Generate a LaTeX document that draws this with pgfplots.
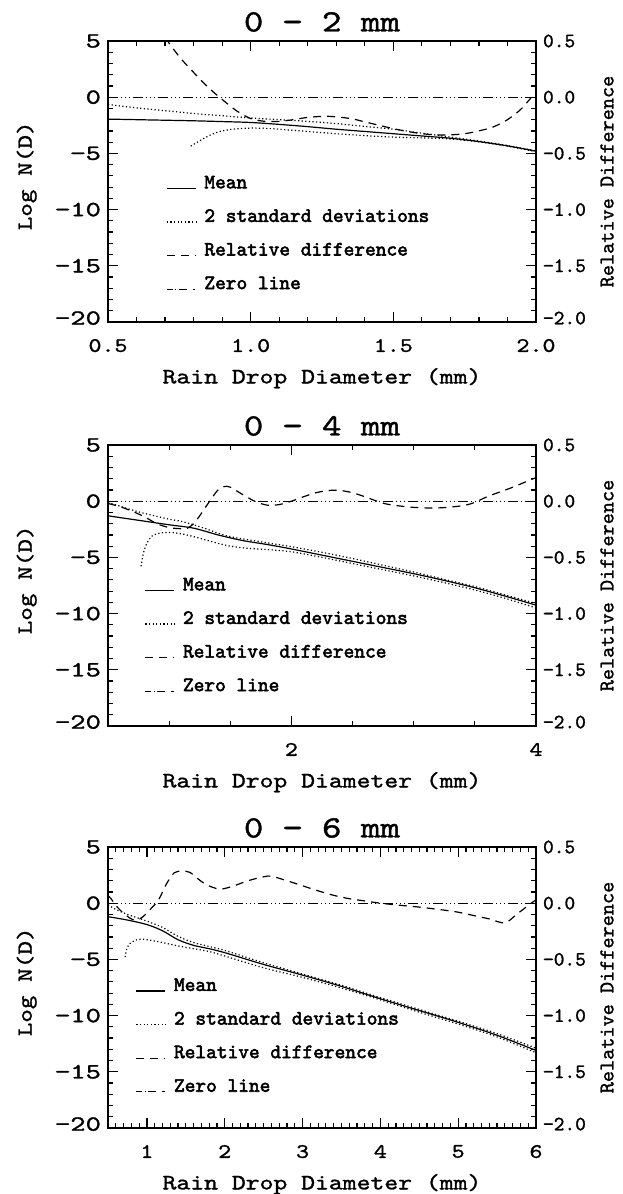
\documentclass[border=0pt]{standalone}
\usepackage{fontspec}
\newfontfamily\wide{lmmono10-regular.otf}[FakeStretch=1.2, FakeBold=1.3]
\newfontfamily\widey{lmmono10-regular.otf}[FakeStretch=1.35, FakeBold=1.3]
\newfontfamily\condfont{lmmono10-regular.otf}[FakeBold=1.3]
\newfontfamily\legfont{lmmono10-regular.otf}[FakeBold=2.6]
\usepackage{pgfplots}
\pgfplotsset{compat=1.18}

\pgfplotsset{
  base/.style={
    scale only axis, width=214pt, height=140.5pt, anchor=south west,
    ymin=-20, ymax=5,
    axis line style={line width=0.75pt},
    every tick/.style={black, line width=0.6pt},
    major tick length=5pt, minor tick length=2.5pt,
    ytick={-20,-15,-10,-5,0,5},
    yticklabels={{\raisebox{4pt}{−20}},−15,−10,−5,0,{\raisebox{-4pt}{5}}},
    minor y tick num=4,
    ytick pos=left,
    xticklabel style={yshift=-5pt, font=\wide\fontsize{10.3}{12}\selectfont},
    yticklabel style={font=\widey\fontsize{10.8}{12}\selectfont},
    ylabel={Log N(D)},
    ylabel style={at={(axis description cs:-0.19,0.52)}, anchor=center, font=\wide\fontsize{10.8}{12}\selectfont},
    xlabel={Rain Drop Diameter (mm)},
    xlabel style={at={(axis description cs:0.5,-0.2)}, anchor=center, font=\wide\fontsize{11}{12}\selectfont},
    title style={at={(axis description cs:0.5,1)}, anchor=center, yshift=3.5pt, font=\wide\fontsize{15.5}{18}\selectfont},
    legend cell align=left,
    legend image code/.code={\draw[#1] (0pt,-2.6pt) -- (14.5pt,-2.6pt);},
    legend style={draw=none, fill=none, inner sep=0pt, outer sep=0pt, row sep=7.6pt,
      nodes={inner sep=0pt, text height=7.2pt, text depth=2pt, font=\legfont\fontsize{10.2}{10}\selectfont},
      /tikz/every odd column/.append style={column sep=4pt}},
  },
  sec/.style={
    scale only axis, width=214pt, height=140.5pt, anchor=south west,
    axis y line*=right, axis x line=none,
    ymin=-2, ymax=0.5,
    axis line style={line width=0.75pt},
    every tick/.style={black, line width=0.6pt},
    major tick length=5pt, minor tick length=2.5pt,
    ytick={-2,-1.5,-1,-0.5,0,0.5},
    yticklabels={{\raisebox{4pt}{−2.0}},−1.5,−1.0,−0.5,0.0,{\raisebox{-4pt}{0.5}}},
    minor y tick num=4,
    yticklabel style={font=\condfont\fontsize{10.2}{12}\selectfont},
    ylabel={Relative Difference},
    ylabel style={at={(axis description cs:1.166,0.5)}, anchor=center, font=\condfont\fontsize{10.6}{12}\selectfont},
  },
  meanst/.style={black, line width=0.6pt, smooth},
  sdst/.style={black, line width=0.6pt, dash pattern=on 0.6pt off 1.2pt, smooth},
  rdst/.style={black, line width=0.6pt, dash pattern=on 4pt off 3pt, smooth},
  zst/.style={black, line width=0.6pt, dash pattern=on 5pt off 1.5pt on 0.5pt off 1.5pt on 0.5pt off 1.5pt on 0.5pt off 1.5pt},
  zleg/.style={black, line width=0.6pt, dash pattern=on 3pt off 1.2pt on 0.6pt off 1.2pt on 4pt},
}

\begin{document}
\begin{tikzpicture}
\path[use as bounding box] (0,0) rectangle (311pt,597pt);

% ---------------- Panel 1: 0-2 mm ----------------
\begin{axis}[base, at={(54pt,436pt)}, title={0 − 2 mm},
  xmin=0.5, xmax=2, xtick={0.5,1,1.5,2}, xticklabels={0.5,1.0,1.5,2.0}, minor x tick num=4,
  legend style={at={(0.136,0.527)}, anchor=north west}]
\addplot[meanst] coordinates {(0.5,-1.95)(0.6,-2.0)(0.7,-2.05)(0.8,-2.1)(0.9,-2.17)(1.0,-2.25)(1.1,-2.42)(1.2,-2.62)(1.3,-2.85)(1.4,-3.05)(1.5,-3.25)(1.6,-3.45)(1.7,-3.65)(1.8,-3.95)(1.9,-4.33)(2.0,-4.8)};
\addlegendentry{Mean}
\addplot[sdst] coordinates {(0.5,-0.65)(0.6,-0.95)(0.7,-1.2)(0.8,-1.45)(0.9,-1.65)(1.0,-1.85)(1.1,-2.0)(1.2,-2.15)(1.3,-2.35)(1.4,-2.6)(1.5,-2.85)(1.6,-3.2)(1.7,-3.55)(1.8,-3.9)(1.9,-4.3)(2.0,-4.78)};
\addlegendentry{2 standard deviations}
\addplot[sdst, forget plot] coordinates {(0.79,-4.35)(0.82,-3.9)(0.86,-3.35)(0.9,-3.0)(0.95,-2.82)(1.0,-2.75)(1.05,-2.77)(1.1,-2.85)(1.2,-3.05)(1.3,-3.25)(1.4,-3.42)(1.5,-3.55)(1.6,-3.62)(1.7,-3.72)(1.8,-3.98)(1.9,-4.36)(2.0,-4.85)};
\addlegendimage{rdst}
\addlegendentry{Relative difference}
\addlegendimage{zleg}
\addlegendentry{Zero line}
\end{axis}
\begin{axis}[sec, at={(54pt,436pt)}, xmin=0.5, xmax=2]
\addplot[rdst] coordinates {(0.7,0.53)(0.75,0.36)(0.8,0.22)(0.85,0.09)(0.9,-0.02)(0.95,-0.12)(1.0,-0.19)(1.05,-0.215)(1.1,-0.215)(1.15,-0.2)(1.2,-0.18)(1.27,-0.17)(1.35,-0.19)(1.4,-0.22)(1.45,-0.25)(1.5,-0.28)(1.55,-0.305)(1.6,-0.325)(1.65,-0.335)(1.7,-0.335)(1.75,-0.325)(1.8,-0.3)(1.85,-0.265)(1.9,-0.2)(1.95,-0.1)(2.0,0.05)};
\addplot[zst] coordinates {(0.5,0)(2.0,0)};
\end{axis}

% ---------------- Panel 2: 0-4 mm ----------------
\begin{axis}[base, at={(54pt,234pt)}, title={0 − 4 mm},
  xmin=0.5, xmax=4, xtick={2,4}, xticklabels={2,4}, minor xtick={0.5,1,1.5,2.5,3,3.5},
  legend style={at={(0.086,0.534)}, anchor=north west}]
\addplot[meanst] coordinates {(0.5,-1.3)(0.75,-1.7)(1.0,-2.1)(1.2,-2.4)(1.4,-3.0)(1.6,-3.5)(1.8,-3.85)(2.0,-4.25)(2.25,-4.8)(2.5,-5.35)(2.75,-5.9)(3.0,-6.45)(3.25,-7.05)(3.5,-7.7)(3.75,-8.45)(4.0,-9.25)};
\addlegendentry{Mean}
\addplot[sdst] coordinates {(0.5,-0.1)(0.6,-0.45)(0.75,-0.95)(0.9,-1.35)(1.0,-1.6)(1.1,-1.8)(1.2,-2.1)(1.3,-2.45)(1.4,-2.85)(1.5,-3.15)(1.6,-3.35)(1.8,-3.7)(2.0,-4.05)(2.25,-4.55)(2.5,-5.1)(2.75,-5.7)(3.0,-6.3)(3.25,-6.95)(3.5,-7.6)(3.75,-8.35)(4.0,-9.1)};
\addlegendentry{2 standard deviations}
\addplot[sdst, forget plot] coordinates {(0.77,-5.8)(0.79,-4.6)(0.82,-3.7)(0.86,-3.1)(0.92,-2.85)(1.0,-2.78)(1.1,-2.9)(1.2,-3.15)(1.3,-3.45)(1.4,-3.75)(1.5,-4.0)(1.65,-4.2)(1.8,-4.3)(2.0,-4.5)(2.25,-5.0)(2.5,-5.55)(2.75,-6.1)(3.0,-6.65)(3.25,-7.25)(3.5,-7.9)(3.75,-8.65)(4.0,-9.5)};
\addlegendimage{rdst}
\addlegendentry{Relative difference}
\addlegendimage{zleg}
\addlegendentry{Zero line}
\end{axis}
\begin{axis}[sec, at={(54pt,234pt)}, xmin=0.5, xmax=4]
\addplot[rdst] coordinates {(0.5,-0.02)(0.6,-0.05)(0.7,-0.09)(0.8,-0.14)(0.9,-0.2)(1.0,-0.235)(1.1,-0.245)(1.15,-0.24)(1.2,-0.2)(1.25,-0.13)(1.3,-0.05)(1.35,0.03)(1.4,0.1)(1.45,0.13)(1.5,0.125)(1.6,0.06)(1.7,0.0)(1.8,-0.035)(1.9,-0.03)(2.0,0.0)(2.1,0.04)(2.2,0.075)(2.3,0.095)(2.4,0.095)(2.5,0.075)(2.6,0.04)(2.7,0.0)(2.8,-0.03)(3.0,-0.055)(3.2,-0.06)(3.4,-0.04)(3.5,-0.01)(3.6,0.04)(3.7,0.08)(3.8,0.12)(3.9,0.165)(4.0,0.21)};
\addplot[zst] coordinates {(0.5,0)(4.0,0)};
\end{axis}

% ---------------- Panel 3: 0-6 mm ----------------
\begin{axis}[base, at={(54pt,33pt)}, title={0 − 6 mm},
  xmin=0.5, xmax=6, xtick={1,2,3,4,5,6}, xticklabels={1,2,3,4,5,6}, minor xtick={0.5,0.6,...,6.0},
  legend style={at={(0.065,0.539)}, anchor=north west}]
\addplot[meanst] coordinates {(0.5,-1.2)(0.75,-1.5)(1.0,-1.9)(1.2,-2.45)(1.4,-3.25)(1.6,-3.75)(1.8,-4.05)(2.0,-4.4)(2.5,-5.45)(3.0,-6.4)(3.5,-7.4)(4.0,-8.5)(4.5,-9.55)(5.0,-10.6)(5.5,-11.75)(6.0,-13.1)};
\addlegendentry{Mean}
\addplot[sdst] coordinates {(0.5,-0.15)(0.6,-0.55)(0.75,-1.0)(0.9,-1.35)(1.0,-1.6)(1.2,-2.15)(1.4,-2.95)(1.6,-3.5)(1.8,-3.85)(2.0,-4.2)(2.5,-5.3)(3.0,-6.3)(3.5,-7.3)(4.0,-8.4)(4.5,-9.45)(5.0,-10.5)(5.5,-11.6)(6.0,-12.9)};
\addlegendentry{2 standard deviations}
\addplot[sdst, forget plot] coordinates {(0.72,-4.8)(0.74,-4.1)(0.78,-3.6)(0.85,-3.3)(0.92,-3.2)(1.0,-3.25)(1.2,-3.5)(1.4,-3.8)(1.6,-4.05)(1.8,-4.3)(2.0,-4.7)(2.5,-5.75)(3.0,-6.6)(3.5,-7.55)(4.0,-8.6)(4.5,-9.7)(5.0,-10.75)(5.5,-11.9)(6.0,-13.3)};
\addlegendimage{rdst}
\addlegendentry{Relative difference}
\addlegendimage{zleg}
\addlegendentry{Zero line}
\end{axis}
\begin{axis}[sec, at={(54pt,33pt)}, xmin=0.5, xmax=6]
\addplot[rdst] coordinates {(0.5,0.07)(0.55,0.03)(0.6,-0.02)(0.7,-0.09)(0.8,-0.14)(0.87,-0.15)(0.95,-0.12)(1.05,-0.05)(1.15,0.03)(1.25,0.17)(1.35,0.27)(1.45,0.285)(1.55,0.275)(1.65,0.22)(1.75,0.17)(1.85,0.14)(1.95,0.125)(2.1,0.15)(2.3,0.2)(2.5,0.235)(2.6,0.24)(2.8,0.2)(3.0,0.155)(3.2,0.11)(3.4,0.07)(3.6,0.04)(3.8,0.02)(4.0,0.0)(4.2,-0.015)(4.5,-0.035)(4.8,-0.06)(5.0,-0.08)(5.2,-0.11)(5.4,-0.14)(5.6,-0.175)(5.75,-0.1)(5.9,-0.02)(6.0,0.03)};
\addplot[zst] coordinates {(0.5,0)(6.0,0)};
\end{axis}
\end{tikzpicture}
\end{document}
